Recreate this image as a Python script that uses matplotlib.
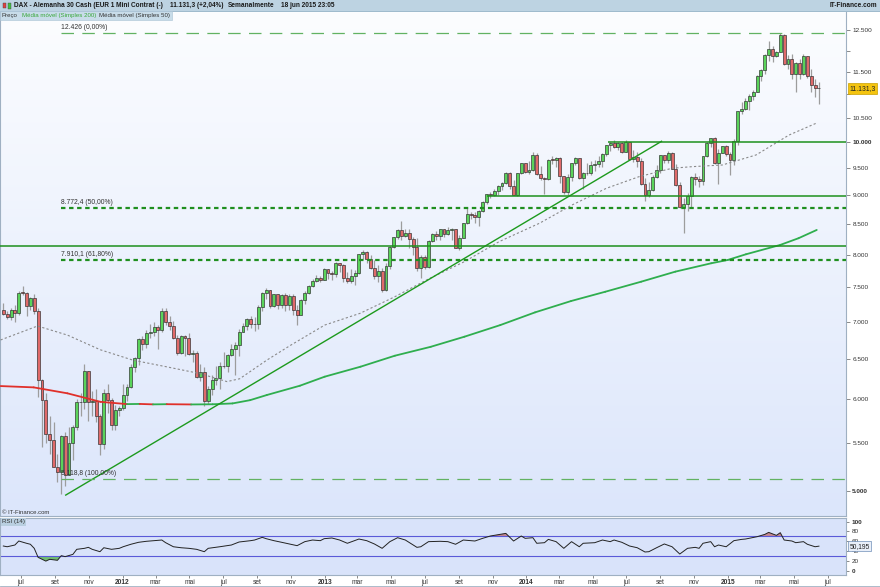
import numpy as np
import pandas as pd
import matplotlib
matplotlib.use("Agg")
import matplotlib.pyplot as plt
import matplotlib.dates as mdates
import matplotlib.transforms as mtrans
from matplotlib.collections import LineCollection
from matplotlib.colors import LinearSegmentedColormap
from matplotlib.patches import Rectangle
from matplotlib.lines import Line2D
from matplotlib.ticker import FixedLocator, NullLocator

plt.rcParams['font.family'] = ['Liberation Sans', 'DejaVu Sans']
plt.rcParams['lines.scale_dashes'] = False

W, H = 880, 587


def fx(px):
    return px / W


def fy(py):
    return 1 - py / H


# weekly candles, DAX (EUR 1 Mini), 30 May 2011 .. 15 Jun 2015
weeks = pd.date_range('2011-05-30', periods=212, freq='7D')

opens = [7160, 7109, 7070, 7164, 7121, 7419, 7415, 7220, 7345, 7158, 6236, 5997, 5602, 5538, 5247, 5190,
         5574, 5164, 5502, 5675, 5967, 5971, 6346, 5966, 5985, 5801, 5493, 6080, 5987, 5702, 5878,
         5898, 6057, 6143, 6404, 6512, 6766, 6692, 6849, 6864, 6921, 6880, 7157, 6996, 6947, 6775, 6583,
         6801, 6780, 6561, 6579, 6271, 6340, 5978, 6130, 6229, 6263, 6416, 6410, 6557, 6630, 6690, 6865,
         6945, 7041, 6971, 6970, 7214, 7412, 7451, 7216, 7398, 7233, 7380, 7231, 7363, 7163, 7101, 7309,
         7405, 7518, 7596, 7636, 7612,
         7776, 7715, 7702, 7869, 7833, 7633, 7593, 7661, 7708, 8004, 8042, 7930, 7795, 7659, 7744, 7459,
         7814, 8122, 8279, 8399, 8305, 8349, 8255, 8127, 7789, 7959, 7806, 8212, 8331, 8293, 8410, 8339,
         8398, 8417, 8103, 8276, 8510, 8675, 8661, 8623, 8725, 8877, 9020, 9009, 9079, 9168, 9226, 9406,
         9172, 9006, 9400, 9589,
         9435, 9473, 9743, 9393, 9306, 9290, 9663, 9657, 9692, 9350, 9056, 9342, 9588, 9695, 9315, 9409,
         9401, 9556, 9581, 9630, 9769, 9943, 9987, 9912, 9987, 9815, 10009, 9666, 9720, 9644, 9210, 9009,
         9092, 9340, 9470, 9747, 9651, 9799, 9490, 9195, 8788, 8850, 8988, 9326, 9291, 9252, 9732, 9980,
         10087, 9594, 9787, 9922,
         9765, 9648, 10032, 10649, 10694, 10846, 10963, 11050, 11402, 11551, 11901, 12040, 11868, 11968,
         12375, 11689, 11811, 11454, 11709, 11447, 11865, 11413, 11197, 11140]

closes = [7109, 7070, 7164, 7121, 7419, 7415, 7220, 7345, 7158, 6236, 5997, 5602, 5538, 5247, 5190, 5574,
          5164, 5502, 5675, 5967, 5971, 6346, 5966, 5985, 5801, 5493, 6080, 5987, 5702, 5878, 5898,
          6057, 6143, 6404, 6512, 6766, 6692, 6849, 6864, 6921, 6880, 7157, 6996, 6947, 6775, 6583, 6801,
          6780, 6561, 6579, 6271, 6340, 5978, 6130, 6229, 6263, 6416, 6410, 6557, 6630, 6690, 6865, 6945,
          7041, 6971, 6970, 7214, 7412, 7451, 7216, 7398, 7233, 7380, 7231, 7363, 7163, 7101, 7309, 7405,
          7518, 7596, 7636, 7612, 7776,
          7715, 7702, 7869, 7833, 7633, 7593, 7661, 7708, 8004, 8042, 7930, 7795, 7659, 7744, 7459, 7814,
          8122, 8279, 8399, 8305, 8349, 8255, 8127, 7789, 7959, 7806, 8212, 8331, 8293, 8410, 8339, 8398,
          8417, 8103, 8276, 8510, 8675, 8661, 8623, 8725, 8877, 9020, 9009, 9079, 9168, 9226, 9406, 9172,
          9006, 9400, 9589, 9435,
          9473, 9743, 9393, 9306, 9290, 9663, 9657, 9692, 9350, 9056, 9342, 9588, 9695, 9315, 9409, 9401,
          9556, 9581, 9630, 9769, 9943, 9987, 9912, 9987, 9815, 10009, 9666, 9720, 9644, 9210, 9009, 9092,
          9340, 9470, 9747, 9651, 9799, 9490, 9195, 8788, 8850, 8988, 9326, 9291, 9252, 9732, 9980, 10087,
          9594, 9787, 9922, 9765,
          9648, 10032, 10649, 10694, 10846, 10963, 11050, 11402, 11551, 11901, 12040, 11868, 11968, 12375,
          11689, 11811, 11454, 11709, 11447, 11865, 11413, 11197, 11140, 11131]

highs = [7270, 7150, 7190, 7230, 7440, 7520, 7430, 7360, 7390, 7200, 6250, 6070, 5800, 5730, 5380, 5590,
         5620, 5680, 5700, 6000, 6080, 6430, 6350, 6100, 6120, 5830, 6120, 6180, 6010, 5930, 5920,
         6180, 6190, 6430, 6530, 6780, 6800, 6880, 6970, 7000, 6950, 7190, 7190, 7080, 7010, 6820, 6820,
         6820, 6850, 6620, 6600, 6440, 6400, 6160, 6300, 6410, 6460, 6590, 6560, 6700, 6720, 6900, 6980,
         7050, 7080, 7060, 7230, 7420, 7480, 7460, 7400, 7400, 7400, 7410, 7400, 7400, 7240, 7320, 7440,
         7530, 7620, 7680, 7660, 7790,
         7780, 7740, 7880, 7870, 7850, 7720, 7780, 7760, 8010, 8070, 8060, 8000, 7910, 7830, 7790, 7860,
         8140, 8290, 8420, 8560, 8420, 8410, 8290, 8270, 7990, 8000, 8240, 8350, 8380, 8420, 8420, 8450,
         8430, 8420, 8310, 8520, 8770, 8700, 8700, 8740, 8890, 9020, 9060, 9110, 9180, 9250, 9420, 9420,
         9270, 9410, 9600, 9600,
         9630, 9800, 9790, 9540, 9330, 9670, 9730, 9720, 9720, 9360, 9390, 9600, 9720, 9700, 9420, 9600,
         9630, 9660, 9740, 9780, 9950, 10000, 10050, 10000, 10000, 10050, 10010, 9850, 9800, 9700, 9320, 9240,
         9380, 9560, 9760, 9760, 9820, 9800, 9570, 9250, 8960, 9050, 9350, 9400, 9360, 9740, 10000, 10090,
         10100, 9860, 9930, 9940,
         9800, 10060, 10650, 10840, 10920, 11000, 11100, 11420, 11560, 11920, 12220, 12100, 12000, 12426,
         12390, 11900, 11920, 11720, 11800, 11920, 11880, 11560, 11350, 11280]

lows = [7090, 7040, 7020, 7000, 7100, 7380, 7080, 7160, 7110, 6030, 5460, 5500, 5380, 5240, 5090, 4966,
        5050, 5160, 5320, 5640, 5800, 5890, 5750, 5800, 5740, 5370, 5440, 5840, 5650, 5640, 5800,
        5870, 5980, 6140, 6330, 6420, 6620, 6640, 6780, 6800, 6630, 6860, 6950, 6880, 6760, 6550, 6560,
        6540, 6550, 6460, 6260, 6220, 5915, 5950, 6050, 6170, 6120, 6380, 6340, 6540, 6300, 6540, 6860,
        6880, 6920, 6870, 6900, 7150, 7330, 7200, 7210, 7180, 7200, 7150, 7160, 7100, 6950, 7100, 7250,
        7390, 7500, 7580, 7580, 7600,
        7620, 7600, 7650, 7730, 7580, 7560, 7560, 7530, 7690, 7930, 7860, 7770, 7620, 7580, 7420, 7440,
        7780, 8100, 8250, 8240, 8280, 8100, 8000, 7750, 7640, 7780, 7790, 8200, 8240, 8230, 8290, 8320,
        8240, 8100, 8070, 8270, 8500, 8580, 8510, 8470, 8700, 8840, 8950, 8980, 9000, 9100, 9200, 9120,
        9000, 8980, 9390, 9400,
        9390, 9450, 9370, 9270, 9020, 9270, 9580, 9530, 9220, 9030, 9000, 9260, 9560, 9300, 9110, 9380,
        9380, 9450, 9520, 9530, 9740, 9820, 9890, 9850, 9780, 9800, 9650, 9620, 9530, 9190, 8900, 8970,
        9080, 9320, 9400, 9600, 9600, 9480, 9160, 8770, 8355, 8730, 8800, 9180, 9150, 9180, 9720, 9900,
        9580, 9210, 9780, 9740,
        9380, 9560, 9950, 10570, 10660, 10670, 10870, 11050, 11300, 11450, 11750, 11740, 11850, 11960,
        11670, 11560, 11350, 11050, 11330, 11440, 11370, 11050, 10950, 10800]

# moving averages
sma200_dates = ['2011-05-25', '2011-07-24', '2011-09-23', '2011-11-22', '2012-01-09', '2012-02-01',
                '2012-02-25', '2012-03-21', '2012-05-04', '2012-06-12', '2012-07-18', '2012-08-19',
                '2012-09-18', '2012-11-17', '2013-01-01', '2013-03-07', '2013-05-08', '2013-07-12',
                '2013-09-11', '2013-11-15', '2014-01-17', '2014-03-23', '2014-05-24', '2014-07-28',
                '2014-09-28', '2014-12-02', '2015-01-01', '2015-02-03', '2015-04-06', '2015-05-09',
                '2015-06-11']
sma200 = [6160, 6144, 6072, 5970, 5943, 5945, 5940, 5942, 5939, 5941, 5951, 5990,
          6051, 6164, 6276, 6402, 6543, 6660, 6795, 6954, 7132, 7294, 7430, 7580,
          7733, 7863, 7915, 8005, 8155, 8264, 8401]

sma50_dates = ['2011-05-25', '2011-07-31', '2011-09-23', '2011-11-22', '2012-01-20', '2012-03-21',
               '2012-05-20', '2012-07-08', '2012-07-31', '2012-09-18', '2012-10-30', '2013-01-01',
               '2013-03-06', '2013-05-08', '2013-07-10', '2013-09-11', '2013-11-13', '2014-01-25',
               '2014-03-25', '2014-05-26', '2014-07-24', '2014-09-22', '2014-10-28', '2014-12-22',
               '2015-02-21', '2015-04-22', '2015-06-10']
sma50 = [6751, 6941, 6817, 6620, 6485, 6400, 6315, 6215, 6250, 6485, 6675, 6954, 7118, 7357, 7630,
         7888, 8209, 8514, 8829, 9126, 9339, 9497, 9527, 9559, 9751, 10146, 10386]

# drawn objects
trend_dates = ['2011-09-20', '2014-09-03']
trend_vals = [4960, 10020]
levels = [10000, 8988, 8135]
level_start = ['2014-05-29', '2013-10-22', '2011-05-24']
fib_vals = [12426, 8772.4, 7910.1, 5118.8]
fib_labels = ['12.426 (0,00%)', '8.772,4 (50,00%)', '7.910,1 (61,80%)', '5.118,8 (100,00%)']
fib_start = '2011-09-12'

# RSI(14) (week index, value)
rsi_idx = [0, 1, 3, 4, 6, 7, 8, 9, 11, 12, 14, 15, 16, 18, 19, 21, 22, 23, 25, 26,
           28, 30, 31, 33, 35, 37, 41, 42, 44, 46, 48, 50, 52, 53, 56, 59, 61, 64, 65, 67,
           68, 70, 72, 74, 76, 78, 80, 82, 83, 85, 87, 89, 92, 94, 96, 98, 100, 102, 104, 107,
           108, 110, 113, 115, 117, 119, 122, 124, 126, 130, 132, 134, 135, 137, 138, 140, 141, 143, 145, 147,
           149, 150, 153, 155, 157, 158, 160, 162, 164, 166, 167, 169, 171, 173, 175, 177, 179, 180, 181, 183,
           184, 185, 187, 189, 191, 192, 195, 197, 198, 200, 201, 202, 204, 205, 207, 208, 210, 211]
rsi_vals = [50.5, 49, 52.5, 60.6, 56, 54, 45.8, 27.6, 20, 23.6, 21.6, 31, 29, 33.6, 43.8, 45.8, 47.8, 43.8, 39, 47,
            43.8, 45.8, 49, 54, 58, 60, 62.6, 57.2, 49, 47, 45.8, 43.8, 39, 45.8, 49, 52.5, 58.6, 61.3, 62.6, 68,
            65.3, 61.3, 58, 54.6, 51.2, 59.3, 62.6, 61.3, 65.3, 66.7, 62.6, 56, 64.6, 61.3, 54.6, 45.8, 59.3, 67.3, 62.6, 47.8,
            49, 59.3, 60, 59.3, 54, 62.6, 60.6, 66, 70.7, 76, 60.6, 70.7, 66, 67.3, 56, 57.2, 63.9, 59.3, 45.8, 59.3,
            49, 56, 57.2, 62.6, 59.3, 62.6, 58, 50.5, 47, 38.4, 39, 47, 54.6, 49, 34.3, 45.8, 47.8, 45.8, 56, 59.3,
            49, 52.5, 49, 61.3, 63.9, 64.6, 69.3, 74, 78, 72, 77.4, 62.6, 60.6, 57.2, 59.3, 54, 49, 50.2]
rsi_last = 50.195

price_ticks = [5000, 5500, 6000, 6500, 7000, 7500, 8000, 8500, 9000, 9500, 10000, 10500, 11000, 11500, 12000, 12500]
price_labels = ['5.000', '5.500', '6.000', '6.500', '7.000', '7.500', '8.000', '8.500', '9.000', '9.500',
                '10.000', '10.500', '', '11.500', '', '12.500']
month_ticks = ['2011-07-01', '2011-09-01', '2011-11-01', '2012-01-01', '2012-03-01', '2012-05-01', '2012-07-01',
               '2012-09-01', '2012-11-01', '2013-01-01', '2013-03-01', '2013-05-01', '2013-07-01', '2013-09-01',
               '2013-11-01', '2014-01-01', '2014-03-01', '2014-05-01', '2014-07-01', '2014-09-01', '2014-11-01',
               '2015-01-01', '2015-03-01', '2015-05-01', '2015-07-01']
month_labels = ['jul', 'set', 'nov', '2012', 'mar', 'mai', 'jul', 'set', 'nov', '2013', 'mar', 'mai', 'jul',
                'set', 'nov', '2014', 'mar', 'mai', 'jul', 'set', 'nov', '2015', 'mar', 'mai', 'jul']

o = np.array(opens, float)
c = np.array(closes, float)
hi = np.array(highs, float)
lo = np.array(lows, float)
xd = mdates.date2num(weeks)
x0 = mdates.date2num(pd.Timestamp('2011-05-24'))
x1 = mdates.date2num(pd.Timestamp('2015-08-03'))

fig = plt.figure(figsize=(W / 100, H / 100), dpi=100)
fig.patch.set_facecolor('white')

# main panel gradient background
main_pos = [0, fy(516), fx(846), (516 - 12) / H]
bg = fig.add_axes(main_pos, zorder=0)
grad = np.linspace(0, 1, 256).reshape(-1, 1)
bg.imshow(grad, extent=[0, 1, 0, 1], aspect='auto',
          cmap=LinearSegmentedColormap.from_list('bg', ['#fcfdff', '#dce6fb']))
bg.set_axis_off()

ax = fig.add_axes(main_pos, zorder=1)
ax.set_facecolor('none')
ax.set_yscale('log')
ax.set_xlim(x0, x1)
ax.set_ylim(4758, 12956)

# candles
ax.vlines(xd, lo, hi, color='#9d9d9d', lw=0.9, zorder=2)
up = c >= o
body_lo = np.minimum(o, c)
body_h = np.maximum(np.abs(c - o), body_lo * 0.0008)
ax.bar(xd[up], body_h[up], bottom=body_lo[up], width=5.3, color='#5ad35a',
       edgecolor='#2a2a2a', linewidth=0.45, zorder=3)
ax.bar(xd[~up], body_h[~up], bottom=body_lo[~up], width=5.3, color='#e06a6a',
       edgecolor='#2a2a2a', linewidth=0.45, zorder=3)

# moving averages
d200 = mdates.date2num(pd.to_datetime(sma200_dates))
pts = np.column_stack([d200, sma200])
segs = np.stack([pts[:-1], pts[1:]], axis=1)
seg_cols = np.where(np.diff(sma200) < 0, '#e0302a', '#2fae4e')
ax.add_collection(LineCollection(segs, colors=seg_cols, linewidths=1.3, zorder=4, capstyle='round'))

d50 = mdates.date2num(pd.to_datetime(sma50_dates))
ax.plot(d50, sma50, color='#8a8a8a', lw=0.8, dashes=(1.6, 1.6), zorder=4)

# trend line and horizontal levels
ax.plot(mdates.date2num(pd.to_datetime(trend_dates)), trend_vals, color='#1d9a1d', lw=1.0, zorder=5)
for lv, st in zip(levels, level_start):
    ax.hlines(lv, mdates.date2num(pd.Timestamp(st)), x1, color='#1d901d', lw=1.1, zorder=5)

fs = mdates.date2num(pd.Timestamp(fib_start))
for i, (fv, fl) in enumerate(zip(fib_vals, fib_labels)):
    if i in (0, 3):
        ln = Line2D([fs, x1], [fv, fv], color='#62b262', lw=0.9, dashes=(9, 6), zorder=5)
    else:
        ln = Line2D([fs, x1], [fv, fv], color='#1f8f1f', lw=1.6, dashes=(3.2, 2.6), zorder=5)
    ax.add_line(ln)
    ax.text(fs, fv * 1.004, fl, fontsize=4.9, color='#333333', ha='left', va='bottom', zorder=6)

# right price axis
ax.yaxis.tick_right()
ax.yaxis.set_major_locator(FixedLocator(price_ticks))
ax.yaxis.set_minor_locator(NullLocator())
ax.set_yticklabels(price_labels)
for lab, v in zip(ax.get_yticklabels(), price_ticks):
    if v in (5000, 10000):
        lab.set_fontweight('bold')
        lab.set_color('#111111')
ax.tick_params(axis='y', direction='out', length=3, width=0.6, colors='#777777',
               labelsize=4.6, labelcolor='#333333', pad=1.5)
ax.set_xticks([])
ax.spines['top'].set_visible(False)
for s in ('left', 'right', 'bottom'):
    ax.spines[s].set_color('#9fb0c2')
    ax.spines[s].set_linewidth(0.8)

blend = mtrans.blended_transform_factory(ax.transAxes, ax.transData)
ax.text(1.004, closes[-1], '11.131,3', transform=blend, fontsize=4.9, color='#222222',
        va='center', ha='left', zorder=8,
        bbox=dict(boxstyle='square,pad=0.25', facecolor='#f4c40f', edgecolor='#c9a000', lw=0.5))

# RSI panel
rax = fig.add_axes([0, fy(575), fx(846), (575 - 518) / H], zorder=1)
rax.set_facecolor('#d9e3fa')
rax.set_xlim(x0, x1)
rax.set_ylim(-8.1, 107.1)
rx = xd[rsi_idx]
rv = np.array(rsi_vals)
rax.fill_between(rx, rv, 70, where=rv > 70, interpolate=True, color='#c4878f', lw=0)
rax.fill_between(rx, rv, 30, where=rv < 30, interpolate=True, color='#72bd72', lw=0)
rax.axhline(70, color='#5a5ad8', lw=0.8)
rax.axhline(30, color='#5a5ad8', lw=0.8)
rax.plot(rx, rv, color='#222222', lw=0.7)
rax.yaxis.tick_right()
rax.set_yticks([0, 20, 40, 60, 80, 100])
rax.set_yticklabels(['0', '20', '40', '60', '80', '100'])
for lab in rax.get_yticklabels():
    if lab.get_text() in ('0', '100'):
        lab.set_fontweight('bold')
rax.tick_params(axis='y', direction='out', length=2.5, width=0.6, colors='#777777',
                labelsize=4.6, labelcolor='#333333', pad=1.5)
rax.set_xticks(mdates.date2num(pd.to_datetime(month_ticks)))
rax.set_xticklabels(month_labels)
for lab in rax.get_xticklabels():
    if lab.get_text().isdigit():
        lab.set_fontweight('bold')
        lab.set_color('#111111')
rax.tick_params(axis='x', direction='out', length=2, width=0.6, colors='#777777',
                labelsize=4.8, labelcolor='#333333', pad=1)
for s in rax.spines.values():
    s.set_color('#9fb0c2')
    s.set_linewidth(0.8)
rblend = mtrans.blended_transform_factory(rax.transAxes, rax.transData)
rax.text(1.004, rsi_last, '50,195', transform=rblend, fontsize=4.8, color='#222222',
         va='center', ha='left', zorder=8,
         bbox=dict(boxstyle='square,pad=0.2', facecolor='#e9eff9', edgecolor='#6f8fb8', lw=0.5))

# header bars
fig.patches.append(Rectangle((0, fy(11)), 1, 11 / H, transform=fig.transFigure,
                             facecolor='#bdd3e2', edgecolor='none', zorder=2))
fig.lines.append(Line2D([0, 1], [fy(11), fy(11)], transform=fig.transFigure, color='#8eaec4', lw=0.6))
fig.patches.append(Rectangle((0, fy(20)), fx(172), 9 / H, transform=fig.transFigure,
                             facecolor='#c8dce9', edgecolor='#a9c2d4', lw=0.4, zorder=2))
fig.patches.append(Rectangle((fx(3), fy(8)), fx(3), 5 / H, transform=fig.transFigure,
                             facecolor='#e04040', edgecolor='#444444', lw=0.3, zorder=3))
fig.patches.append(Rectangle((fx(8), fy(9)), fx(3), 6 / H, transform=fig.transFigure,
                             facecolor='#40c040', edgecolor='#444444', lw=0.3, zorder=3))
hy = fy(5.5)
fig.text(fx(14), hy, 'DAX - Alemanha 30 Cash (EUR 1 Mini Contrat (-)', fontsize=4.7,
         fontweight='bold', color='#1a1a1a', va='center', zorder=4)
fig.text(fx(170), hy, '11.131,3 (+2,04%)', fontsize=4.7, fontweight='bold', color='#1a1a1a',
         va='center', zorder=4)
fig.text(fx(228), hy, 'Semanalmente', fontsize=4.7, fontweight='bold', color='#1a1a1a',
         va='center', zorder=4)
fig.text(fx(281), hy, '18 jun 2015 23:05', fontsize=4.7, fontweight='bold', color='#1a1a1a',
         va='center', zorder=4)
fig.text(fx(877), hy, 'IT-Finance.com', fontsize=4.7, fontweight='bold', color='#1a1a1a',
         va='center', ha='right', zorder=4)
ly = fy(15.8)
fig.text(fx(2), ly, 'Preço', fontsize=4.4, color='#333333', va='center', zorder=4)
fig.text(fx(21.5), ly, 'Média móvel (Simples 200)', fontsize=4.4, color='#3aa83a', va='center', zorder=4)
fig.text(fx(98.5), ly, 'Média móvel (Simples 50)', fontsize=4.4, color='#333333', va='center', zorder=4)
for sx in (20, 97):
    fig.lines.append(Line2D([fx(sx), fx(sx)], [fy(19), fy(12.5)], transform=fig.transFigure,
                            color='#8fa9bd', lw=0.5))

# footer texts
fig.text(fx(2), fy(512.5), '© IT-Finance.com', fontsize=4.3, color='#333333', va='center', zorder=4)
fig.text(fx(2), fy(522), 'RSI (14)', fontsize=4.4, color='#333333', va='center', zorder=4,
         bbox=dict(boxstyle='square,pad=0.2', facecolor='#b9cfe0', edgecolor='none'))

# outer frame
fig.lines.append(Line2D([fx(879.5), fx(879.5)], [fy(12), fy(585.5)], transform=fig.transFigure,
                        color='#9fb0c2', lw=0.6))
fig.lines.append(Line2D([0, fx(879.5)], [fy(585.5), fy(585.5)], transform=fig.transFigure,
                        color='#9fb0c2', lw=0.6))

fig.savefig('out.png', dpi=100)
